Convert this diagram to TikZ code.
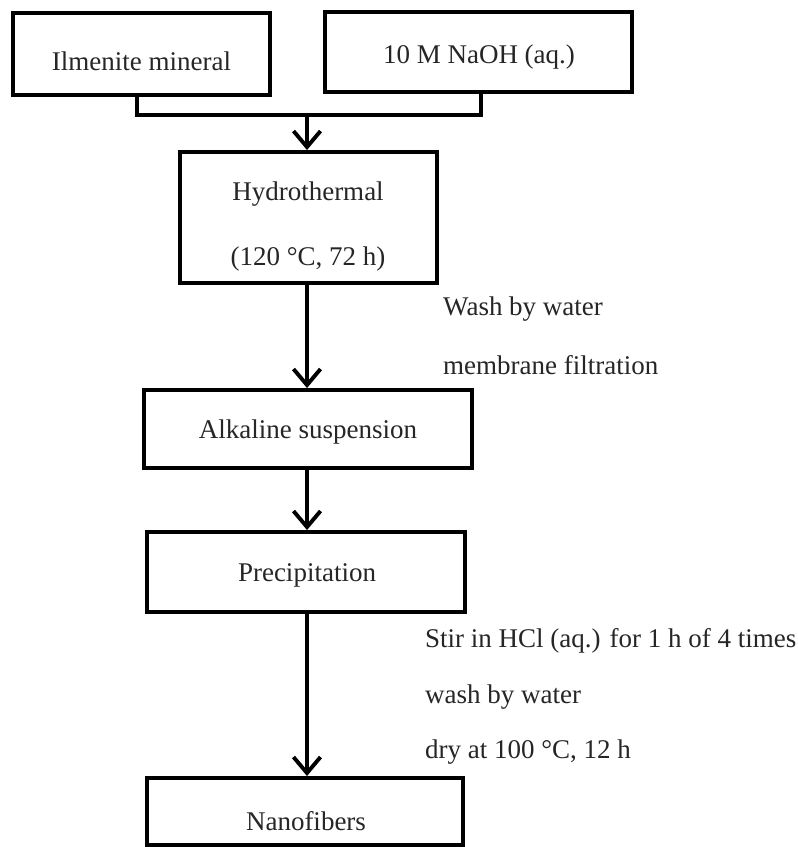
\documentclass[tikz,border=0pt]{standalone}
\usepackage{fontspec}
\setmainfont{Liberation Serif}
\usetikzlibrary{arrows.meta}
\begin{document}
\begin{tikzpicture}[x=1pt,y=-1pt,
  every node/.style={font=\fontsize{27}{32}\selectfont, text=black!85},
  procbox/.style={draw=black, line width=3.9pt, inner sep=0pt},
  conn/.style={draw=black, line width=3.9pt},
  arr/.style={conn, -{Straight Barb[length=16pt,width=27pt,line width=3.9pt]}},
  note/.style={anchor=west, inner sep=0pt}]
\useasboundingbox (0,0) rectangle (798,847);
\fill[white] (0,0) rectangle (798,847);

\node[procbox, minimum width=257pt, minimum height=82pt] (b1) at (141.5,54) {};
\node (t1) at (141.5,61) {Ilmenite mineral};
\node[procbox, minimum width=307pt, minimum height=80pt] (b2) at (478.5,52) {};
\node (t2) at (479,57) {10 M NaOH (aq.)};

\node[procbox, minimum width=257pt, minimum height=131pt] (b3) at (308.5,217.5) {};
\node (t3a) at (308,194) {Hydrothermal};
\node (t3b) at (308,259) {(120 °C, 72 h)};

\node[procbox, minimum width=328pt, minimum height=78pt] (b4) at (308,429) {};
\node (t4) at (308,432) {Alkaline suspension};

\node[procbox, minimum width=318pt, minimum height=80pt] (b5) at (306,572) {};
\node (t5) at (307,575) {Precipitation};

\node[procbox, minimum width=316pt, minimum height=67pt] (b6) at (305,811.5) {};
\node (t6) at (306,821) {Nanofibers};

\coordinate (j1) at (137,115);
\coordinate (j2) at (481,115);
\coordinate (jm) at (307,115);
\draw[conn] (b1.south -| j1) -- (j1) -- (j2) -- (b2.south -| j2);
\draw[arr] (jm) -- (b3.north -| jm);

\coordinate (a3) at (307,0);
\draw[arr] (b3.south -| a3) -- (b4.north -| a3);
\draw[arr] (b4.south -| a3) -- (b5.north -| a3);
\draw[arr] (b5.south -| a3) -- (b6.north -| a3);

\node[note] (n1) at (443,309) {Wash by water};
\node[note] (n2) at (443,365) {membrane filtration};
\node[note] (n3) at (425,641) {Stir in HCl (aq.) for 1 h of 4 times};
\node[note] (n4) at (425,697) {wash by water};
\node[note] (n5) at (425,752) {dry at 100 °C, 12 h};
\end{tikzpicture}
\end{document}
